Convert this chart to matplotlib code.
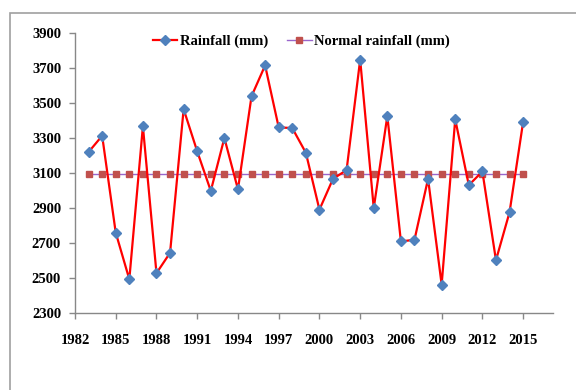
import matplotlib
matplotlib.use("Agg")
import matplotlib.pyplot as plt
from matplotlib.patches import Rectangle

years = list(range(1983, 2016))
rainfall = [3218, 3311, 2757, 2491, 3365, 2526, 2642, 3463, 3222, 2996,
            3298, 3005, 3537, 3713, 3359, 3355, 3214, 2889, 3065, 3115,
            3746, 2898, 3424, 2707, 2717, 3065, 2461, 3405, 3029, 3107,
            2600, 2874, 3390]
normal = [3090] * len(years)
xticks = list(range(1982, 2016, 3))
yticks = list(range(2300, 3901, 200))

plt.rcParams['font.family'] = ['Liberation Serif', 'DejaVu Serif']
plt.rcParams['font.weight'] = 'bold'

fig = plt.figure(figsize=(5.76, 3.9), dpi=100)
fig.patches.append(Rectangle((10/576, -0.1), 1.2, 1 - 13/390 + 0.1,
                             transform=fig.transFigure, fill=False,
                             edgecolor='#a0a0a0', linewidth=1.2))
ax = fig.add_axes([75/576, 1 - 312.7/390, (553 - 75)/576, (312.7 - 32.7)/390])

ax.plot(years, rainfall, color='#ff0000', linewidth=1.6, marker='D',
        markersize=5, markerfacecolor='#4f81bd', markeredgecolor='#4f81bd',
        label='Rainfall (mm)', zorder=3)
ax.plot(years, normal, color='#9966cc', linewidth=1.0, marker='s',
        markersize=4, markerfacecolor='#c0504d', markeredgecolor='#c0504d',
        label='Normal rainfall (mm)', zorder=2)

ax.set_xlim(1982, 2017.2)
ax.set_ylim(2300, 3900)
ax.set_xticks(xticks)
ax.set_yticks(yticks)
ax.tick_params(axis='both', direction='out', length=4, width=1, color='#888888',
               labelsize=10.5)
ax.tick_params(axis='x', pad=11)
ax.tick_params(axis='y', pad=6)
for s in ['top', 'right']:
    ax.spines[s].set_visible(False)
for s in ['left', 'bottom']:
    ax.spines[s].set_color('#888888')
    ax.spines[s].set_linewidth(1)
for lbl in ax.get_xticklabels() + ax.get_yticklabels():
    lbl.set_fontweight('bold')

leg = ax.legend(loc='upper center', bbox_to_anchor=(0.473, 1.04), ncol=2,
                frameon=False, fontsize=10.5, handlelength=1.7,
                columnspacing=1.3, handletextpad=0.15)
for t in leg.get_texts():
    t.set_fontweight('bold')

fig.savefig('out.png', dpi=100)
